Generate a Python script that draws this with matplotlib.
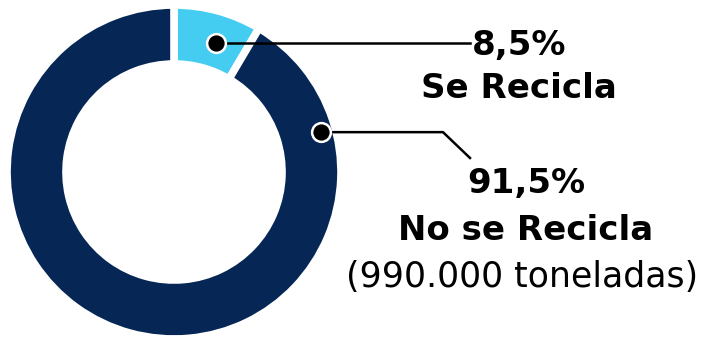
import numpy as np
import matplotlib
matplotlib.use("Agg")
import matplotlib.pyplot as plt

labels = ["Se Recicla", "No se Recicla"]
shares = [8.5, 91.5]
share_text = ["8,5%", "91,5%"]
note = "(990.000 toneladas)"
colors = ["#44CDF0", "#062755"]

W, H = 708, 338
fig = plt.figure(figsize=(W / 100, H / 100), dpi=100)
fig.set_facecolor("w")
ax = fig.add_axes([0, 0, 1, 1])

cx, cy = 174, H - 172
wedges, _ = ax.pie(shares, colors=colors, startangle=90, counterclock=False,
                   center=(cx, cy), radius=167, frame=True,
                   wedgeprops=dict(width=59, edgecolor="white", linewidth=5.5))
ax.set_xlim(0, W)
ax.set_ylim(0, H)
ax.set_aspect("equal")
ax.axis("off")

# dot positions on the ring (angle in degrees, radius in px)
dots = [(72, 136), (15.2, 152)]
pts = []
for ang, r in dots:
    a = np.radians(ang)
    pts.append((cx + r * np.cos(a), cy + r * np.sin(a)))

# leader lines
(x0, y0), (x1, y1) = pts
ax.plot([x0, 470], [y0, y0], color="black", lw=1.8, zorder=3)
ax.plot([x1, 443, 470], [y1, y1, H - 158], color="black", lw=1.8, zorder=3)
for x, y in pts:
    ax.plot(x, y, "o", ms=13.5, mfc="black", mec="white", mew=1.8, zorder=4)

bold = dict(family="DejaVu Sans", weight="bold", ha="center", va="center", color="black")
ax.text(519, H - 45, share_text[0], fontsize=24.5, **bold)
ax.text(519, H - 88, labels[0], fontsize=24.5, **bold)
ax.text(526, H - 183, share_text[1], fontsize=24.5, **bold)
ax.text(526, H - 230, labels[1], fontsize=24.5, **bold)
ax.text(522, H - 277, note, fontsize=25, family="DejaVu Sans", ha="center",
        va="center", color="black")

fig.savefig("out.png", dpi=100, facecolor="w")
